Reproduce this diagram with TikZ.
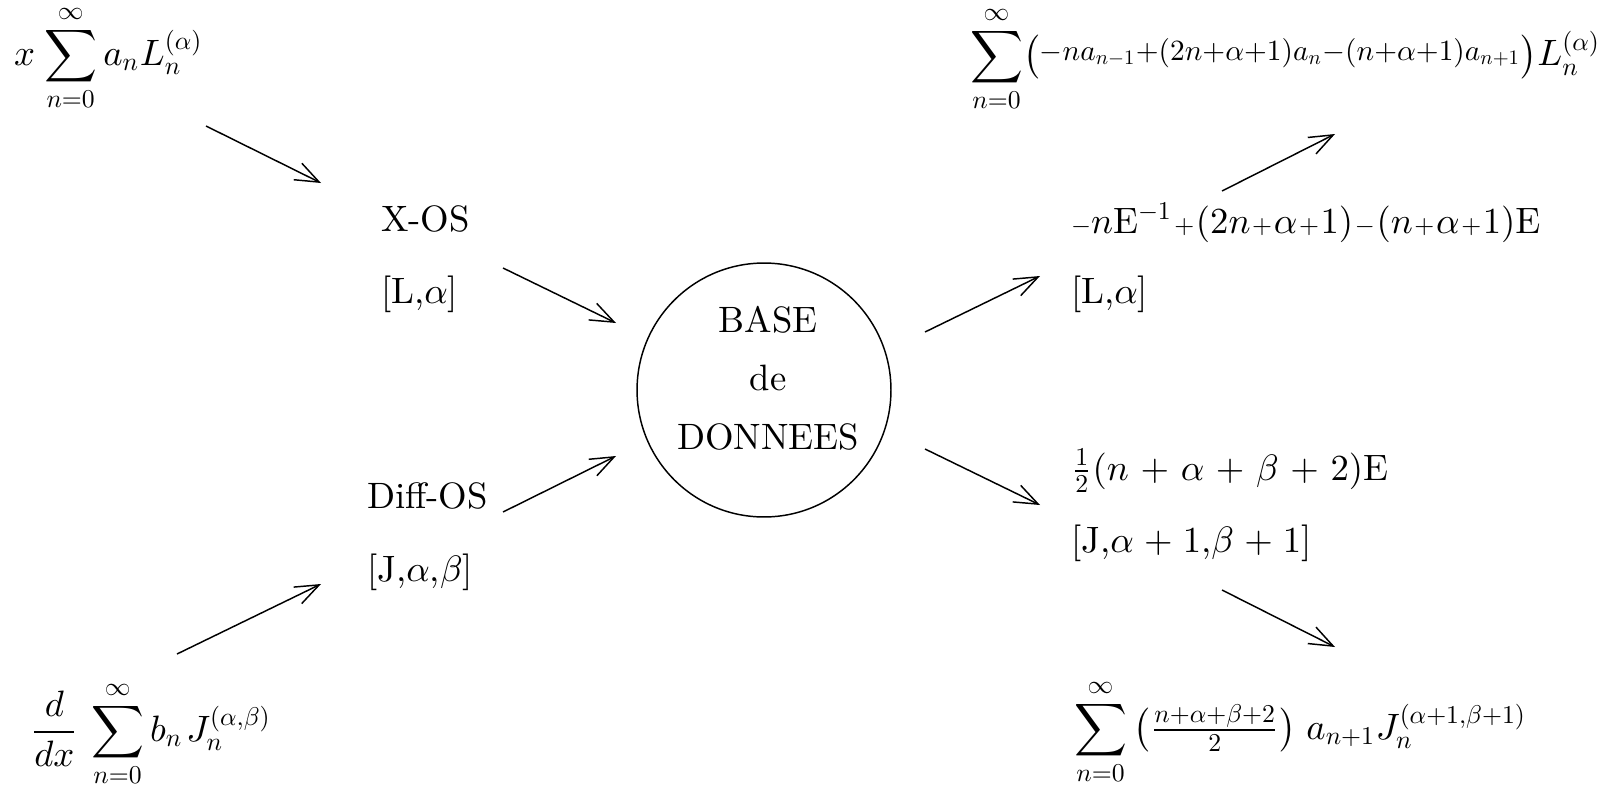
\documentclass[tikz,border=0pt]{standalone}
\usepackage{amsmath}
\usepackage{graphicx}
\DeclareFontShape{OML}{cmm}{m}{it}{<->cmmi10}{}
\DeclareFontShape{OT1}{cmr}{m}{n}{<->cmr10}{}
\DeclareFontShape{OMS}{cmsy}{m}{n}{<->cmsy10}{}
\usetikzlibrary{arrows.meta}
\newcommand\smp{\mkern0.8mu{\scriptstyle+}\mkern0.8mu}
\newcommand\smm{\mkern0.8mu{\scriptstyle-}\mkern0.8mu}
\newcommand\wplus{\mkern1.7mu+\mkern1.7mu}
\newcommand\mplus{\mkern1mu+\mkern1mu}
\begin{document}
\begin{tikzpicture}[x=0.2725pt,y=-0.2725pt,
  txt/.style={anchor=base west,inner sep=0pt,outer sep=0pt},
  arr/.style={line width=0.4pt,-{Straight Barb[length=6.5pt,width=5pt]}}]
\useasboundingbox (0,0) rectangle (1615,793);
% left side
\node[txt] (tl) at (14,65) {$\displaystyle x\mkern1.5mu\sum_{n=0}^{\infty} a_n L_n^{(\alpha)}$};
\node[txt] (xos) at (381,231) {X-OS};
\node[txt] (xosb) at (381,303) {[L,$\alpha$]};
\node[txt] (dos) at (367,508) {Diff-OS};
\node[txt] (dosb) at (367,581) {[J,$\alpha$,$\beta$]};
\node[txt] (bl) at (30,741) {$\displaystyle \frac{d}{dx}\,\sum_{n=0}^{\infty} b_n\mkern1.5mu J_n^{(\alpha,\beta)}$};
% centre
\node[circle,draw,line width=0.4pt,minimum size=69.2pt,inner sep=0pt] (db) at (764,390) {};
\node[align=center,inner sep=0pt] (dbt) at (768,378) {BASE\\[4pt]de\\[4pt]DONNEES};
% right side
\node[txt] (tr) at (970,66) {$\displaystyle\sum_{n=0}^{\infty}\bigl(\raisebox{1.5pt}{\scalebox{0.80}{$-na_{n-1}{+}(2n{+}\alpha{+}1)a_n{-}(n{+}\alpha{+}1)a_{n+1}$}}\bigr)L_n^{(\alpha)}$};
\node[txt] (rl) at (1071,233) {${\scriptstyle-}n\mathrm{E}^{-1}\smp(2n\smp\alpha\smp1)\smm(n\smp\alpha\smp1)\mathrm{E}$};
\node[txt] (rlb) at (1071,303) {[L,$\alpha$]};
\node[txt] (rj) at (1071,480) {$\frac12(n\wplus\alpha\wplus\beta\wplus2)\mathrm{E}$};
\node[txt] (rjb) at (1071,552) {[J,$\alpha\mplus1$,$\beta\mplus1$]};
\node[txt] (br) at (1074,739) {$\displaystyle\sum_{n=0}^{\infty}\,\bigl(\tfrac{n+\alpha+\beta+2}{2}\bigr)\;a_{n+1}J_n^{(\alpha+1,\beta+1)}$};
% arrows
\coordinate (a1s) at (206,126); \coordinate (a1e) at (321,183);
\coordinate (a2s) at (503,268); \coordinate (a2e) at (616,323);
\coordinate (a3s) at (503,512); \coordinate (a3e) at (616,456);
\coordinate (a4s) at (177,654); \coordinate (a4e) at (321,584);
\coordinate (a5s) at (925,332); \coordinate (a5e) at (1040,276);
\coordinate (a6s) at (925,449); \coordinate (a6e) at (1040,505);
\coordinate (a7s) at (1222,191); \coordinate (a7e) at (1335,134);
\coordinate (a8s) at (1222,590); \coordinate (a8e) at (1335,647);
\draw[arr] (a1s) -- (a1e);
\draw[arr] (a2s) -- (a2e);
\draw[arr] (a3s) -- (a3e);
\draw[arr] (a4s) -- (a4e);
\draw[arr] (a5s) -- (a5e);
\draw[arr] (a6s) -- (a6e);
\draw[arr] (a7s) -- (a7e);
\draw[arr] (a8s) -- (a8e);
\end{tikzpicture}
\end{document}
